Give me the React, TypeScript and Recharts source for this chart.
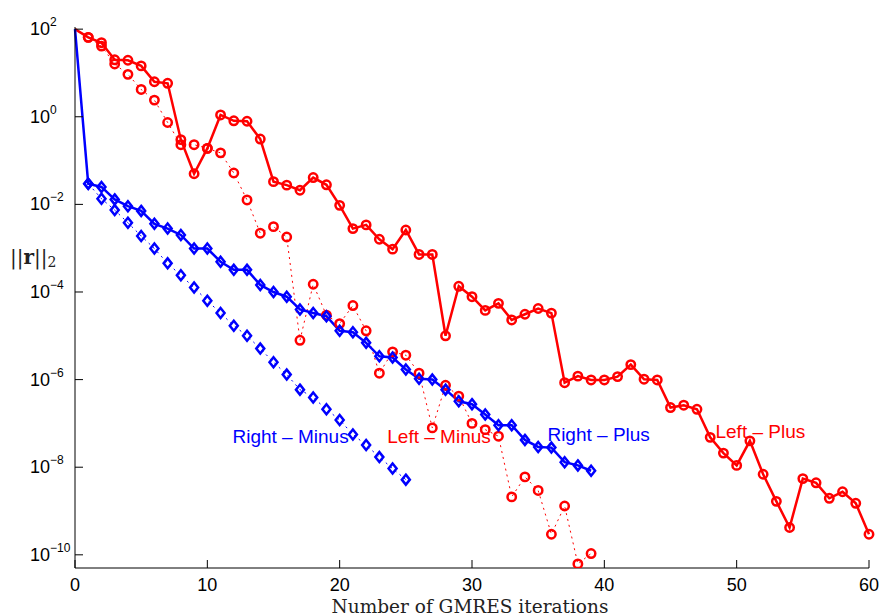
import { LineChart, Line, XAxis, YAxis, ReferenceDot, Label } from "recharts";

// residual norms, index = GMRES iteration
const leftPlus = [
  1.0e2, 6.5e1, 4.9e1, 2.0e1, 1.95e1, 1.45e1, 6.3, 5.8, 3.0e-1, 5.0e-2,
  1.9e-1, 1.1, 8.1e-1, 7.9e-1, 3.1e-1, 3.3e-2, 2.75e-2, 2.1e-2, 4.1e-2, 2.8e-2,
  9.5e-3, 2.8e-3, 3.4e-3, 1.6e-3, 9.5e-4, 2.6e-3, 7.2e-4, 7.2e-4, 1.0e-5, 1.35e-4,
  7.8e-5, 3.8e-5, 5.5e-5, 2.3e-5, 3.1e-5, 4.2e-5, 3.3e-5, 8.5e-7, 1.2e-6, 9.8e-7,
  9.8e-7, 1.17e-6, 2.2e-6, 1.02e-6, 9.8e-7, 2.3e-7, 2.6e-7, 2.1e-7, 4.8e-8, 2.1e-8,
  1.1e-8, 4.0e-8, 6.9e-9, 1.66e-9, 4.2e-10, 5.5e-9, 4.4e-9, 1.95e-9, 2.75e-9, 1.5e-9,
  2.95e-10,
];

const leftMinus = [
  1.0e2, 6.5e1, 4.1e1, 1.6e1, 9.3, 4.2, 2.4, 7.4e-1, 2.3e-1, 2.3e-1,
  1.9e-1, 1.5e-1, 5.2e-2, 1.26e-2, 2.2e-3, 3.1e-3, 1.8e-3, 7.9e-6, 1.5e-4, 2.95e-5,
  1.9e-5, 4.9e-5, 1.3e-5, 1.4e-6, 4.3e-6, 3.6e-6, 1.4e-6, 7.9e-8, 7.4e-7, 4.2e-7,
  1.0e-7, 7.2e-8, 5.1e-8, 2.1e-9, 6.0e-9, 2.95e-9, 2.95e-10, 1.3e-9, 6.2e-11, 1.07e-10,
];

const rightPlus = [
  1.0e2, 2.95e-2, 2.5e-2, 1.3e-2, 9.1e-3, 7.1e-3, 3.6e-3, 2.8e-3, 2.0e-3, 9.8e-4,
  9.8e-4, 4.9e-4, 3.2e-4, 3.2e-4, 1.45e-4, 1.0e-4, 7.8e-5, 4.0e-5, 3.3e-5, 2.8e-5,
  1.3e-5, 1.2e-5, 6.9e-6, 3.4e-6, 3.2e-6, 1.7e-6, 1.05e-6, 1.0e-6, 5.9e-7, 3.2e-7,
  2.75e-7, 1.6e-7, 9.1e-8, 9.1e-8, 4.2e-8, 2.9e-8, 2.8e-8, 1.3e-8, 1.1e-8, 8.3e-9,
];

const rightMinus = [
  1.0e2, 2.95e-2, 1.35e-2, 7.4e-3, 3.8e-3, 1.9e-3, 9.8e-4, 4.5e-4, 2.4e-4, 1.26e-4,
  6.3e-5, 3.3e-5, 1.7e-5, 1.0e-5, 5.1e-6, 2.5e-6, 1.3e-6, 5.9e-7, 3.9e-7, 2.1e-7,
  1.2e-7, 5.6e-8, 3.2e-8, 1.7e-8, 9.3e-9, 5.2e-9,
];

const xTicks = [0, 10, 20, 30, 40, 50, 60];
const yTicks = [1e-10, 1e-8, 1e-6, 1e-4, 1e-2, 1e0, 1e2];

// curve names and where they sit (iteration, residual)
const curveLabels = [
  { text: "Right \u2013 Minus", x: 11.9, y: 5.1e-8, series: "right" },
  { text: "Left \u2013 Minus", x: 23.6, y: 5.1e-8, series: "left" },
  { text: "Right \u2013 Plus", x: 35.7, y: 5.6e-8, series: "right" },
  { text: "Left \u2013 Plus", x: 48.4, y: 6.6e-8, series: "left" },
];

const RED = "#ff0000";
const BLUE = "#0000ff";
const SANS = "'Liberation Sans', Arial, Helvetica, sans-serif";
const SERIF = "'DejaVu Serif', 'Liberation Serif', serif";

const toPoints = (vals: number[]) => vals.map((y, x) => ({ x, y }));

const CircleDot = (props: any) => {
  const { cx, cy, payload, stroke } = props;
  if (cx == null || cy == null || payload.x === 0) return <g />;
  return <circle cx={cx} cy={cy} r={4.2} fill="none" stroke={stroke} strokeWidth={2.5} />;
};

const DiamondDot = (props: any) => {
  const { cx, cy, payload, stroke } = props;
  if (cx == null || cy == null || payload.x === 0) return <g />;
  const d = `M${cx},${cy - 5} L${cx + 4},${cy} L${cx},${cy + 5} L${cx - 4},${cy} Z`;
  return <path d={d} fill="none" stroke={stroke} strokeWidth={2.5} />;
};

const YTick = ({ x, y, payload }: any) => {
  const exp = Math.round(Math.log10(payload.value));
  const expText = exp < 0 ? `\u2212${-exp}` : `${exp}`;
  return (
    <g>
      <line x1={x} x2={x + 8} y1={y} y2={y} stroke="#000" />
      <text x={x - 45} y={y + 6} fontSize={18} fontFamily={SANS} fill="#000">
        10
        <tspan dy={-9} fontSize={12}>
          {expText}
        </tspan>
      </text>
    </g>
  );
};

const XTick = ({ x, y, payload }: any) => (
  <g>
    <line x1={x} x2={x} y1={y} y2={y - 8} stroke="#000" />
    <text x={x} y={y + 23} textAnchor="middle" fontSize={18} fontFamily={SANS} fill="#000">
      {payload.value}
    </text>
  </g>
);

const App = () => {
  return (
    <div style={{ position: "absolute", left: 0, top: 0, background: "#fff" }}>
      <LineChart width={879} height={616} margin={{ top: 27, right: 10, bottom: 8, left: 5 }}>
        <XAxis
          type="number"
          dataKey="x"
          domain={[0, 60]}
          ticks={xTicks}
          tick={<XTick />}
          tickLine={false}
          tickSize={0}
          tickMargin={0}
          height={40}
          axisLine={{ stroke: "#000" }}
        >
          <Label
            content={({ viewBox }: any) => (
              <text
                x={viewBox.x + viewBox.width / 2 - 2}
                y={viewBox.y + 45}
                textAnchor="middle"
                fontSize={18.5}
                fontFamily={SERIF}
                fill="#222"
              >
                Number of GMRES iterations
              </text>
            )}
          />
        </XAxis>
        <YAxis
          type="number"
          dataKey="y"
          scale="log"
          domain={[5e-11, 112]}
          allowDataOverflow
          ticks={yTicks}
          tick={<YTick />}
          tickLine={false}
          tickSize={0}
          tickMargin={0}
          width={70}
          axisLine={{ stroke: "#000" }}
        >
          <Label
            content={({ viewBox }: any) => (
              <text x={viewBox.x + 5} y={viewBox.y + viewBox.height / 2 - 34} fontSize={20} fontFamily={SERIF} fill="#222">
                ||
                <tspan fontWeight="bold">r</tspan>
                ||
                <tspan dy={3} fontSize={14}>
                  2
                </tspan>
              </text>
            )}
          />
        </YAxis>

        <Line
          data={toPoints(leftPlus)}
          dataKey="y"
          type="linear"
          stroke={RED}
          strokeWidth={2.5}
          dot={<CircleDot />}
          isAnimationActive={false}
        />
        <Line
          data={toPoints(leftMinus)}
          dataKey="y"
          type="linear"
          stroke={RED}
          strokeWidth={1}
          strokeDasharray="2 4"
          dot={<CircleDot />}
          isAnimationActive={false}
        />
        <Line
          data={toPoints(rightPlus)}
          dataKey="y"
          type="linear"
          stroke={BLUE}
          strokeWidth={2.5}
          dot={<DiamondDot />}
          isAnimationActive={false}
        />
        <Line
          data={toPoints(rightMinus)}
          dataKey="y"
          type="linear"
          stroke={BLUE}
          strokeWidth={1}
          strokeDasharray="2 4"
          dot={<DiamondDot />}
          isAnimationActive={false}
        />

        {curveLabels.map((c) => (
          <ReferenceDot
            key={c.text}
            x={c.x}
            y={c.y}
            r={0}
            ifOverflow="visible"
            shape={(p: any) => (
              <text
                x={p.cx}
                y={p.cy}
                dominantBaseline="central"
                fontSize={19}
                fontFamily={SANS}
                fill={c.series === "left" ? RED : BLUE}
              >
                {c.text}
              </text>
            )}
          />
        ))}
      </LineChart>
    </div>
  );
};

export default App;
